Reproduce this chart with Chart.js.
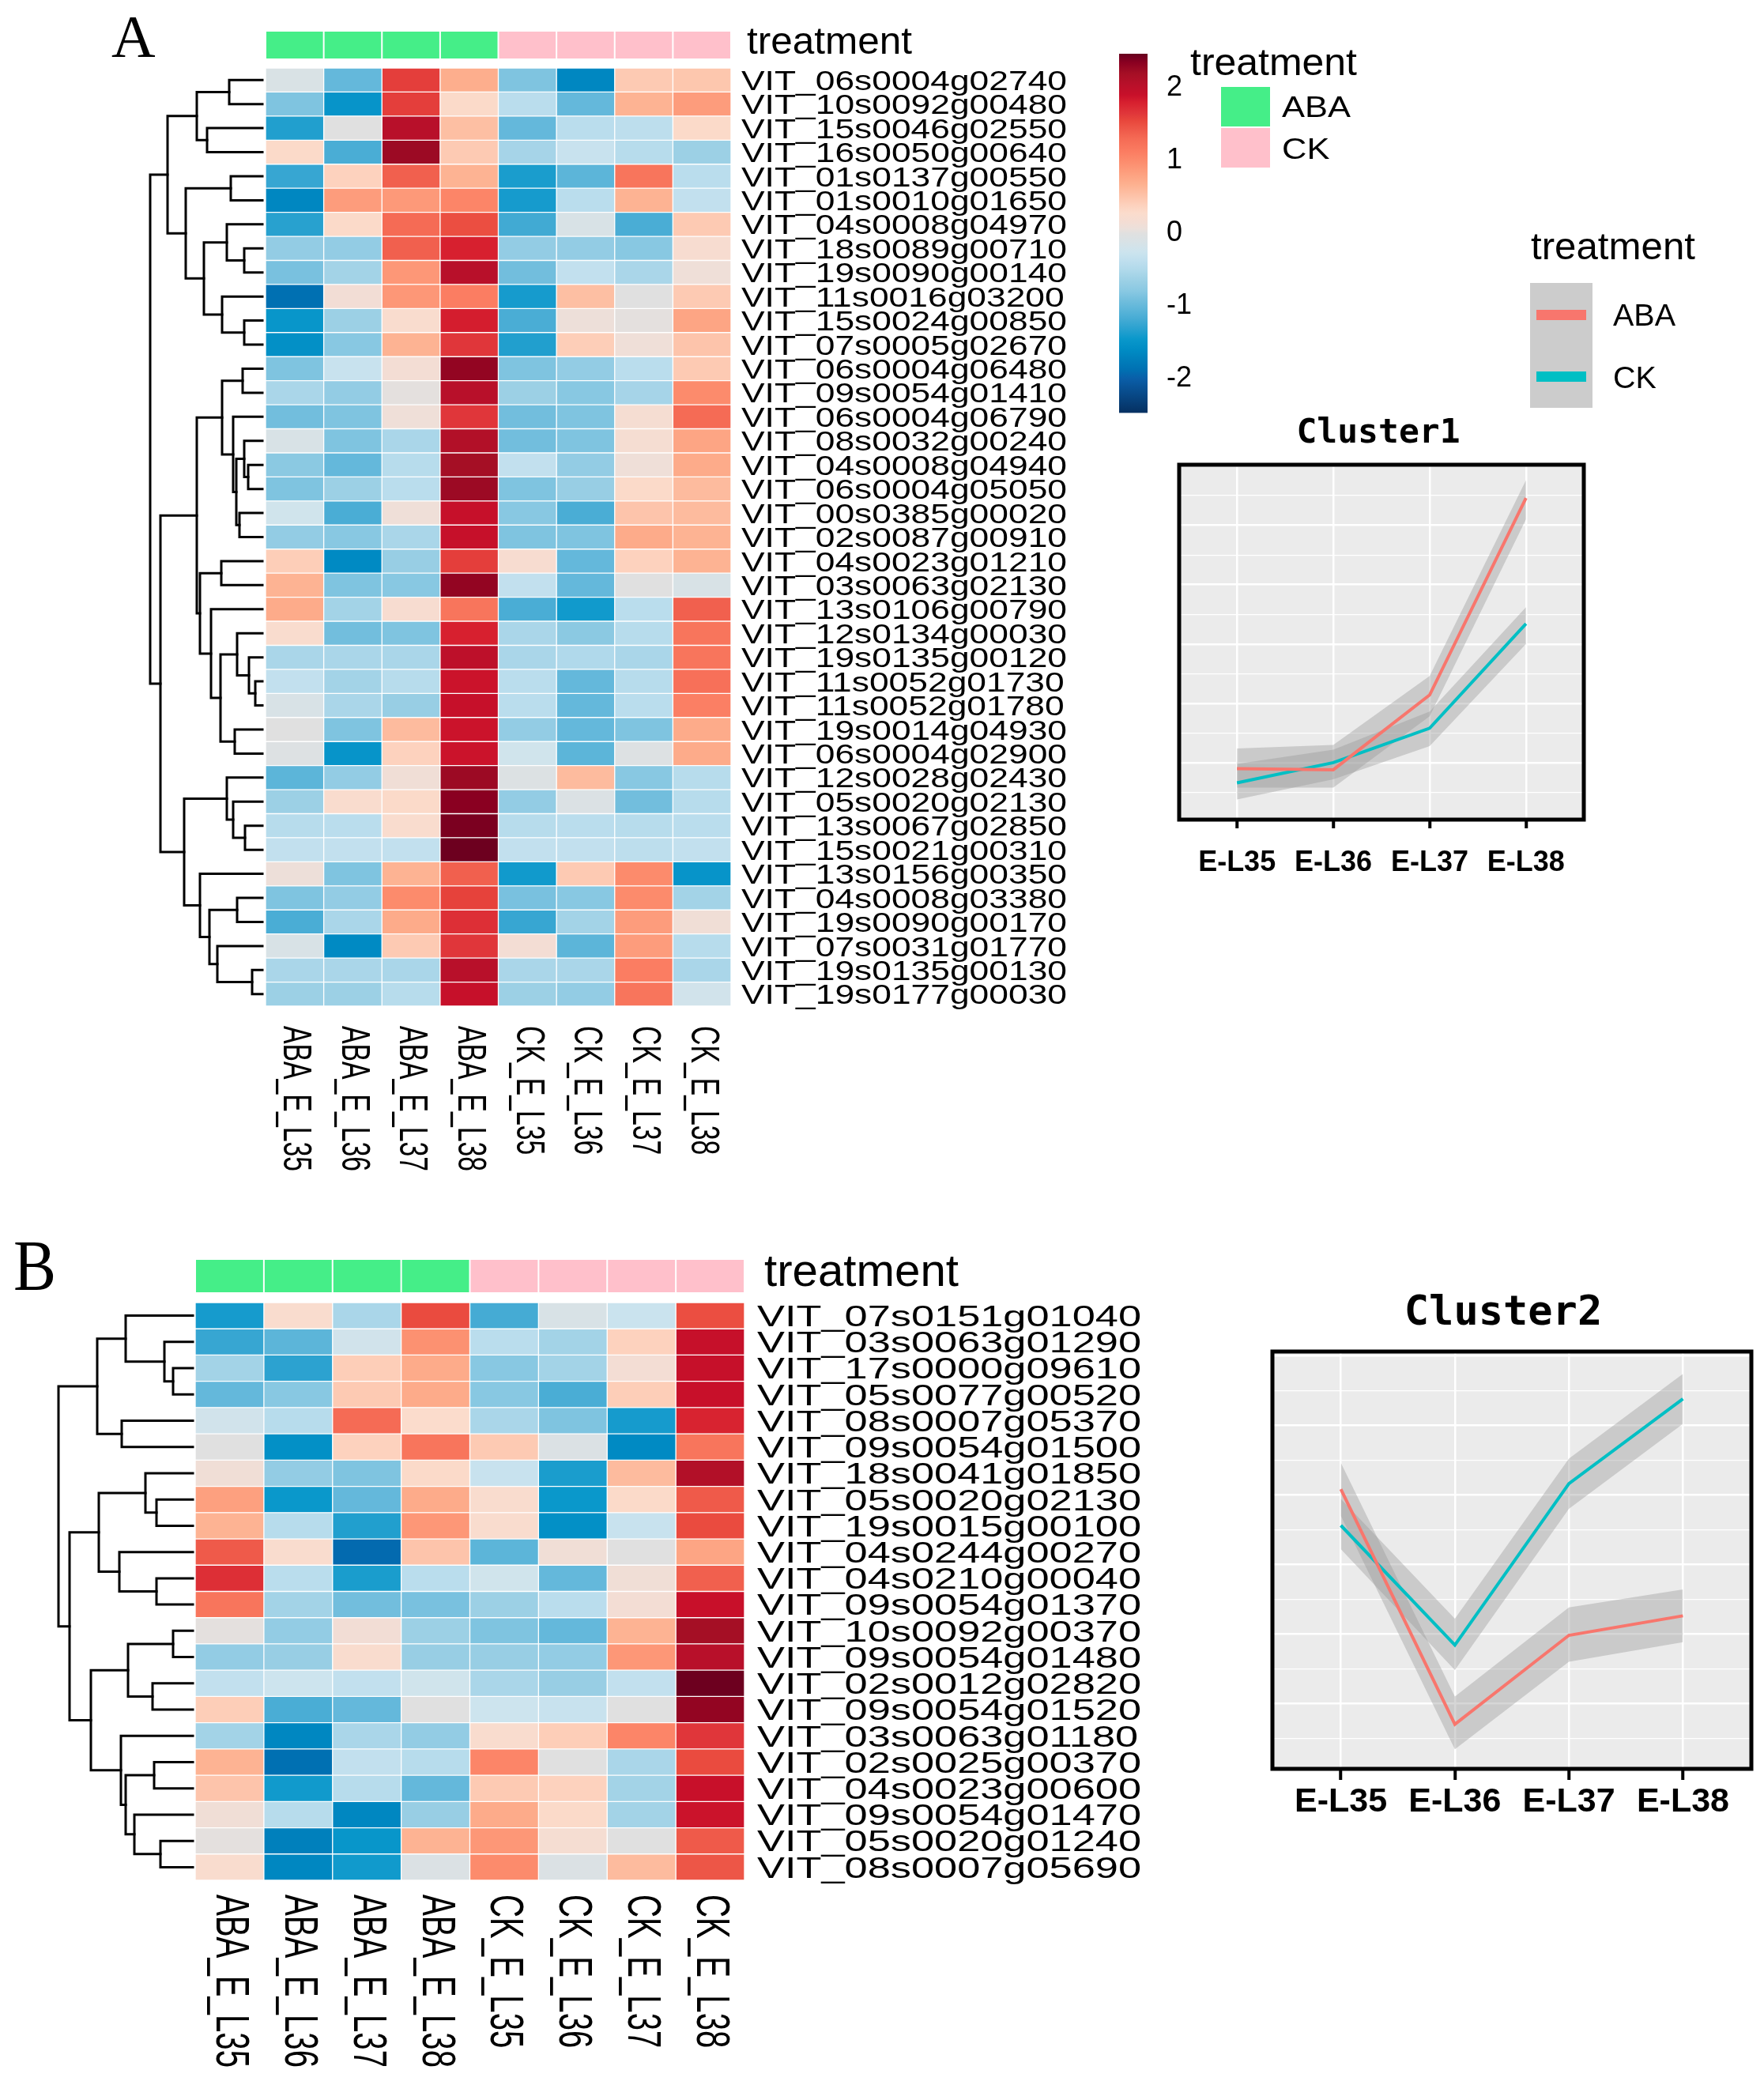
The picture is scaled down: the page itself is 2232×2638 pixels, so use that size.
<!DOCTYPE html>
<html>
<head>
<meta charset="utf-8">
<script src="https://cdn.jsdelivr.net/npm/chart.js@4.4.1/dist/chart.umd.min.js"></script>
<style>
  body { margin: 0; background: #fff; }
  #page { position: relative; width: 2232px; height: 2638px; background: #fff; overflow: hidden; }
  canvas { position: absolute; }
</style>
</head>
<body>
<div id="page">
  <canvas id="heatA" width="1420" height="1500" style="left:0px;top:0px"></canvas>
  <canvas id="heatB" width="1520" height="1098" style="left:0px;top:1540px"></canvas>
  <canvas id="legend" width="852" height="560" style="left:1380px;top:0px"></canvas>
  <canvas id="clu1" width="620" height="660" style="left:1440px;top:480px"></canvas>
  <canvas id="clu2" width="672" height="740" style="left:1560px;top:1590px"></canvas>
</div>
<script>
// ---- data ----
var samples = ['ABA_E_L35', 'ABA_E_L36', 'ABA_E_L37', 'ABA_E_L38', 'CK_E_L35', 'CK_E_L36', 'CK_E_L37', 'CK_E_L38'];
var groups = ['ABA', 'CK'];
var sampleGroup = [0, 0, 0, 0, 1, 1, 1, 1];
var stages = ['E-L35', 'E-L36', 'E-L37', 'E-L38'];
var colorTicks = [2, 1, 0, -1, -2];

var genesA = ['VIT_06s0004g02740', 'VIT_10s0092g00480', 'VIT_15s0046g02550', 'VIT_16s0050g00640',
  'VIT_01s0137g00550', 'VIT_01s0010g01650', 'VIT_04s0008g04970', 'VIT_18s0089g00710', 'VIT_19s0090g00140',
  'VIT_11s0016g03200', 'VIT_15s0024g00850', 'VIT_07s0005g02670', 'VIT_06s0004g06480', 'VIT_09s0054g01410',
  'VIT_06s0004g06790', 'VIT_08s0032g00240', 'VIT_04s0008g04940', 'VIT_06s0004g05050', 'VIT_00s0385g00020',
  'VIT_02s0087g00910', 'VIT_04s0023g01210', 'VIT_03s0063g02130', 'VIT_13s0106g00790', 'VIT_12s0134g00030',
  'VIT_19s0135g00120', 'VIT_11s0052g01730', 'VIT_11s0052g01780', 'VIT_19s0014g04930', 'VIT_06s0004g02900',
  'VIT_12s0028g02430', 'VIT_05s0020g02130', 'VIT_13s0067g02850', 'VIT_15s0021g00310', 'VIT_13s0156g00350',
  'VIT_04s0008g03380', 'VIT_19s0090g00170', 'VIT_07s0031g01770', 'VIT_19s0135g00130', 'VIT_19s0177g00030'];

var valuesA = [
  [-0.1, -1.0, 1.6, 0.7, -0.85, -1.65, 0.45, 0.48],
  [-0.85, -1.5, 1.6, 0.3, -0.42, -1.0, 0.65, 0.85],
  [-1.35, 0, 2.05, 0.55, -1.0, -0.42, -0.4, 0.3],
  [0.3, -1.15, 2.25, 0.45, -0.58, -0.3, -0.45, -0.65],
  [-1.25, 0.38, 1.38, 0.65, -1.38, -1.05, 1.2, -0.42],
  [-1.65, 0.85, 0.88, 1.05, -1.4, -0.42, 0.65, -0.35],
  [-1.32, 0.3, 1.3, 1.5, -1.2, -0.12, -1.15, 0.45],
  [-0.72, -0.72, 1.38, 1.8, -0.72, -0.72, -0.8, 0.22],
  [-0.88, -0.6, 0.9, 2.05, -0.92, -0.35, -0.55, 0.1],
  [-1.88, 0.14, 0.9, 1.12, -1.4, 0.55, 0, 0.45],
  [-1.48, -0.65, 0.25, 1.82, -1.15, 0.08, 0.02, 0.78],
  [-1.55, -0.8, 0.65, 1.65, -1.35, 0.42, 0.1, 0.5],
  [-0.85, -0.3, 0.15, 2.3, -0.85, -0.72, -0.42, 0.45],
  [-0.55, -0.72, 0.02, 2.05, -0.65, -0.8, -0.58, 1.0],
  [-0.92, -0.85, 0.1, 1.65, -0.92, -0.85, 0.18, 1.3],
  [-0.12, -0.85, -0.55, 2.1, -0.92, -0.85, 0.18, 0.78],
  [-0.78, -1.0, -0.45, 2.2, -0.35, -0.72, 0.1, 0.72],
  [-0.85, -0.65, -0.42, 2.25, -0.85, -0.68, 0.3, 0.58],
  [-0.22, -1.15, 0.1, 1.92, -0.8, -1.15, 0.5, 0.58],
  [-0.72, -0.8, -0.55, 1.92, -0.85, -0.85, 0.72, 0.65],
  [0.42, -1.62, -0.68, 1.6, 0.22, -1.0, 0.38, 0.65],
  [0.65, -0.85, -0.8, 2.3, -0.35, -1.0, 0, -0.12],
  [0.72, -0.6, 0.22, 1.2, -1.15, -1.42, -0.42, 1.38],
  [0.25, -0.92, -0.85, 1.8, -0.55, -0.78, -0.45, 1.2],
  [-0.55, -0.55, -0.55, 2.0, -0.55, -0.5, -0.55, 1.2],
  [-0.35, -0.6, -0.45, 1.88, -0.42, -1.0, -0.45, 1.25],
  [-0.12, -0.55, -0.68, 1.92, -0.42, -1.0, -0.42, 1.1],
  [0, -0.85, 0.58, 1.88, -0.72, -1.0, -0.85, 0.72],
  [-0.05, -1.5, 0.38, 1.88, -0.22, -1.05, -0.05, 0.72],
  [-1.05, -0.72, 0.12, 2.25, -0.06, 0.58, -0.8, -0.45],
  [-0.65, 0.25, 0.3, 2.35, -0.72, -0.08, -0.92, -0.45],
  [-0.45, -0.42, 0.25, 2.4, -0.45, -0.42, -0.45, -0.42],
  [-0.35, -0.35, -0.35, 2.45, -0.35, -0.35, -0.4, -0.35],
  [0.08, -0.85, 0.65, 1.38, -1.42, 0.45, 1.0, -1.5],
  [-0.85, -0.72, 1.0, 1.58, -0.88, -0.8, 1.0, -0.6],
  [-1.15, -0.55, 0.72, 1.7, -1.25, -0.6, 0.85, 0.12],
  [-0.12, -1.62, 0.45, 1.65, 0.15, -1.05, 0.85, -0.45],
  [-0.55, -0.55, -0.55, 2.05, -0.55, -0.55, 1.12, -0.55],
  [-0.65, -0.65, -0.45, 1.92, -0.65, -0.72, 1.2, -0.2]
];

// row dendrogram: [height, left, right], leaves are row indices
var treeA = [14.5,
  [12.3,
    [8.6, [4.5, 0, 1], [7.3, 2, 3]],
    [10.0, [4.3, 4, 5], [7.7, [4.8, 6, [2.6, 7, 8]], [5.4, 9, [2.6, 10, 11]]]]],
  [13.2,
    [8.6,
      [5.4, [2.8, 12, 13], [4.0, 14, [3.6, [2.6, 15, [2.1, 16, 17]], [3.2, 18, 19]]]],
      [8.2, [5.5, 20, 21], [6.8, 22, [5.6, [3.5, 23, [2.0, 24, [1.2, 25, 26]]], [3.8, 27, 28]]]]],
    [10.2,
      [4.8, 29, [4.0, 30, [2.5, 31, 32]]],
      [8.2, 33, [7.0, [3.5, 34, 35], [6.0, 36, [1.6, 37, 38]]]]]]];

var genesB = ['VIT_07s0151g01040', 'VIT_03s0063g01290', 'VIT_17s0000g09610', 'VIT_05s0077g00520',
  'VIT_08s0007g05370', 'VIT_09s0054g01500', 'VIT_18s0041g01850', 'VIT_05s0020g02130', 'VIT_19s0015g00100',
  'VIT_04s0244g00270', 'VIT_04s0210g00040', 'VIT_09s0054g01370', 'VIT_10s0092g00370', 'VIT_09s0054g01480',
  'VIT_02s0012g02820', 'VIT_09s0054g01520', 'VIT_03s0063g01180', 'VIT_02s0025g00370', 'VIT_04s0023g00600',
  'VIT_09s0054g01470', 'VIT_05s0020g01240', 'VIT_08s0007g05690'];

var valuesB = [
  [-1.4, 0.25, -0.55, 1.52, -1.18, -0.12, -0.28, 1.5],
  [-1.25, -1.05, -0.2, 0.95, -0.42, -0.6, 0.38, 1.92],
  [-0.6, -1.3, 0.42, 0.72, -0.8, -0.6, 0.15, 1.92],
  [-1.0, -0.8, 0.45, 0.72, -0.8, -1.15, 0.42, 1.9],
  [-0.2, -0.45, 1.3, 0.28, -0.55, -0.85, -1.4, 1.78],
  [0, -1.55, 0.38, 1.2, 0.45, -0.08, -1.62, 1.2],
  [0.12, -0.72, -0.85, 0.3, -0.3, -1.38, 0.58, 2.1],
  [0.82, -1.45, -1.0, 0.72, 0.25, -1.45, 0.3, 1.42],
  [0.65, -0.45, -1.35, 0.9, 0.25, -1.55, -0.3, 1.52],
  [1.42, 0.25, -1.92, 0.5, -1.05, 0.12, 0, 0.78],
  [1.7, -0.42, -1.38, -0.42, -0.22, -1.0, 0.12, 1.38],
  [1.2, -0.6, -0.92, -0.88, -0.65, -0.42, 0.15, 1.9],
  [0.02, -0.72, 0.14, -0.65, -0.85, -1.0, 0.65, 2.2],
  [-0.72, -0.68, 0.25, -0.68, -0.68, -0.72, 0.9, 2.05],
  [-0.35, -0.25, -0.35, -0.22, -0.55, -0.68, -0.35, 2.45],
  [0.42, -1.15, -1.0, 0, -0.25, -0.3, 0, 2.3],
  [-0.6, -1.65, -0.55, -0.72, 0.25, 0.42, 1.05, 1.65],
  [0.65, -1.88, -0.35, -0.45, 1.05, 0, -0.55, 1.52],
  [0.5, -1.42, -0.45, -1.0, 0.45, 0.38, -0.6, 1.9],
  [0.12, -0.45, -1.65, -0.68, 0.72, 0.3, -0.6, 1.88],
  [0.02, -1.72, -1.48, 0.65, 0.9, 0.18, 0, 1.42],
  [0.25, -1.65, -1.42, -0.08, 1.0, -0.08, 0.58, 1.45]
];

var treeB = [17.3,
  [12.4, [8.8, 0, [3.9, 1, [2.8, 2, 3]]], [9.3, 4, 5]],
  [15.9,
    [12.2, [6.3, 6, [4.9, 7, 8]], [9.6, 9, [4.9, 10, 11]]],
    [13.2,
      [8.5, [2.8, 12, 13], [5.4, 14, 15]],
      [9.4, 16, [8.8, [5.2, 17, 18], [7.7, 19, [4.4, 20, 21]]]]]]];

// cluster mean profiles with confidence band
var c1Aba = [-0.55, -0.56, 0.07, 1.73];
var c1AbaHi = [-0.38, -0.35, 0.23, 1.88];
var c1AbaLo = [-0.71, -0.71, -0.11, 1.55];
var c1Ck = [-0.67, -0.5, -0.21, 0.67];
var c1CkHi = [-0.51, -0.39, -0.07, 0.81];
var c1CkLo = [-0.81, -0.64, -0.36, 0.5];

var c2Aba = [1.04, -0.65, -0.01, 0.13];
var c2AbaHi = [1.23, -0.45, 0.19, 0.32];
var c2AbaLo = [0.85, -0.83, -0.2, -0.06];
var c2Ck = [0.78, -0.08, 1.08, 1.69];
var c2CkHi = [0.97, 0.11, 1.26, 1.87];
var c2CkLo = [0.61, -0.26, 0.9, 1.51];

// ---- styles ----
var groupColors = ['#45EE88', '#FFC0CB'];
var lineColors = ['#F8766D', '#00BFC4'];
var rampStops = [
  [-2.47, '#053061'], [-2.0, '#0a5ea8'], [-1.88, '#0070b2'], [-1.72, '#0080bc'], [-1.6, '#008cc4'],
  [-1.45, '#0a98cb'], [-1.33, '#26a0cf'], [-1.18, '#45abd4'], [-1.05, '#5cb5d9'], [-0.92, '#72bedd'],
  [-0.8, '#88c8e2'], [-0.65, '#9cd0e5'], [-0.52, '#aed8ea'], [-0.38, '#bfdfee'], [-0.25, '#cde4ee'],
  [-0.12, '#d8e2e6'], [0, '#e0e0e0'], [0.06, '#ebe0db'], [0.15, '#f3ddd4'], [0.28, '#fbdccc'],
  [0.4, '#fdd0bb'], [0.52, '#fdc2a8'], [0.67, '#fdb190'], [0.82, '#fda07f'], [0.98, '#fc8d6e'],
  [1.12, '#fb7d62'], [1.3, '#f56b55'], [1.42, '#ef5a4a'], [1.55, '#e8473c'], [1.65, '#e0363a'],
  [1.8, '#d7202f'], [1.9, '#c8102a'], [2.05, '#b8102a'], [2.2, '#a50f25'], [2.35, '#8a0021'], [2.47, '#67001f']
];
var SANS = "'Liberation Sans', Arial, sans-serif";

Chart.defaults.font.family = SANS;
Chart.defaults.color = '#000';

function hexRgb(h) {
  return [parseInt(h.substr(1, 2), 16), parseInt(h.substr(3, 2), 16), parseInt(h.substr(5, 2), 16)];
}

function colorFor(v) {
  if (v <= rampStops[0][0]) return rampStops[0][1];
  for (var i = 1; i < rampStops.length; i++) {
    if (v <= rampStops[i][0]) {
      var a = rampStops[i - 1], b = rampStops[i];
      var t = (v - a[0]) / (b[0] - a[0]);
      var ca = hexRgb(a[1]), cb = hexRgb(b[1]);
      return 'rgb(' + ca.map(function (c, k) { return Math.round(c + (cb[k] - c) * t); }).join(',') + ')';
    }
  }
  return rampStops[rampStops.length - 1][1];
}

// horizontal stretch needed so that `ref` set at `size` is `targetW` wide
function fitScale(ctx, ref, size, targetW, weight, family) {
  ctx.save();
  ctx.font = (weight || 'normal') + ' ' + size + 'px ' + (family || SANS);
  var w = ctx.measureText(ref).width;
  ctx.restore();
  return targetW / w;
}

function drawText(ctx, str, x, y, size, sx, weight, family, align) {
  ctx.save();
  ctx.translate(x, y);
  ctx.scale(sx || 1, 1);
  ctx.font = (weight || 'normal') + ' ' + size + 'px ' + (family || SANS);
  ctx.textAlign = align || 'left';
  ctx.textBaseline = 'alphabetic';
  ctx.fillStyle = '#000';
  ctx.fillText(str, 0, 0);
  ctx.restore();
}

function drawTree(ctx, node, ys, left, k) {
  if (typeof node === 'number') return { x: left - 3, y: ys.getPixelForValue(node) };
  var a = drawTree(ctx, node[1], ys, left, k);
  var b = drawTree(ctx, node[2], ys, left, k);
  var x = left - node[0] * k;
  ctx.beginPath();
  ctx.moveTo(a.x, a.y);
  ctx.lineTo(x, a.y);
  ctx.lineTo(x, b.y);
  ctx.lineTo(b.x, b.y);
  ctx.stroke();
  return { x: x, y: (a.y + b.y) / 2 };
}

function heatExtras(o) {
  return {
    id: 'heatExtras',
    afterDraw: function (chart) {
      var ctx = chart.ctx, xs = chart.scales.x, ys = chart.scales.y, area = chart.chartArea;
      ctx.save();
      // treatment annotation
      samples.forEach(function (s, i) {
        var x0 = xs.getPixelForValue(i), x1 = xs.getPixelForValue(i + 1);
        ctx.fillStyle = groupColors[sampleGroup[i]];
        ctx.fillRect(x0 + 1, o.annTop, x1 - x0 - 2, o.annH);
      });
      drawText(ctx, 'treatment', o.annTitleX, o.annTitleY, o.annFont,
        fitScale(ctx, 'treatment', o.annFont, o.annTitleW));
      // panel letter
      drawText(ctx, o.letter, o.letterX, o.letterY, o.letterFont, o.letterSx, 'normal', "'Liberation Serif', 'Times New Roman', serif");
      // row labels
      var rsx = fitScale(ctx, o.genes[0], o.rowFont, o.rowW);
      o.genes.forEach(function (g, i) {
        var y = ys.getPixelForValue(i);
        drawText(ctx, g, o.rowX, y + 0.36 * o.rowFont, o.rowFont, rsx);
      });
      // column labels, rotated clockwise (glyph tops face right)
      var csx = fitScale(ctx, samples[0], o.colFont, o.colLen);
      samples.forEach(function (s, i) {
        var cx = xs.getPixelForValue(i + 0.5);
        ctx.save();
        ctx.translate(cx, o.colTop);
        ctx.rotate(Math.PI / 2);
        ctx.scale(csx, o.colSy);
        ctx.font = o.colFont + 'px ' + SANS;
        ctx.textAlign = 'left';
        ctx.textBaseline = 'middle';
        ctx.fillStyle = '#000';
        ctx.fillText(s, 0, 0);
        ctx.restore();
      });
      // dendrogram
      ctx.strokeStyle = '#000';
      ctx.lineWidth = 3;
      ctx.lineCap = 'square';
      drawTree(ctx, o.tree, ys, area.left - o.treeGap, o.treeK);
      ctx.restore();
    }
  };
}

function heatmap(id, genes, values, o) {
  var datasets = samples.map(function (s, j) {
    return {
      label: s,
      data: genes.map(function () { return 1; }),
      backgroundColor: values.map(function (row) { return colorFor(row[j]); }),
      borderColor: '#ffffff',
      borderWidth: 1,
      borderSkipped: false,
      barPercentage: 1,
      categoryPercentage: 1
    };
  });
  o.genes = genes;
  return new Chart(document.getElementById(id), {
    type: 'bar',
    data: { labels: genes, datasets: datasets },
    options: {
      indexAxis: 'y',
      responsive: false,
      animation: false,
      devicePixelRatio: 1,
      layout: { padding: o.padding },
      plugins: { legend: { display: false }, tooltip: { enabled: false } },
      scales: {
        x: { type: 'linear', stacked: true, min: 0, max: samples.length, display: false },
        y: {
          type: 'category', stacked: true, position: 'right',
          ticks: { display: false }, grid: { display: false }, border: { display: false },
          afterFit: function (s) { s.width = o.axisW; }
        }
      }
    },
    plugins: [heatExtras(o)]
  });
}

heatmap('heatA', genesA, valuesA, {
  padding: { left: 336, top: 86, right: 0, bottom: 227 }, axisW: 1420 - 925,
  annTop: 40, annH: 34, annTitleX: 945, annTitleY: 68, annFont: 48, annTitleW: 209,
  letter: 'A', letterX: 141, letterY: 72, letterFont: 77, letterSx: 1,
  rowX: 938, rowFont: 35, rowW: 412,
  colTop: 1298, colFont: 34, colLen: 184, colSy: 1.45,
  tree: treeA, treeGap: 1, treeK: 10
});

heatmap('heatB', genesB, valuesB, {
  padding: { left: 247, top: 108, right: 0, bottom: 259 }, axisW: 1520 - 942,
  annTop: 54, annH: 41, annTitleX: 967, annTitleY: 87, annFont: 58, annTitleW: 246,
  letter: 'B', letterX: 17, letterY: 92, letterFont: 90, letterSx: 0.9,
  rowX: 958, rowFont: 37, rowW: 486,
  colTop: 857, colFont: 40, colLen: 219, colSy: 1.5,
  tree: treeB, treeGap: 0, treeK: 10
});

// ---- legends ----
new Chart(document.getElementById('legend'), {
  type: 'scatter',
  data: { datasets: [] },
  options: {
    responsive: false,
    animation: false,
    devicePixelRatio: 1,
    layout: { padding: { left: 36, top: 68, bottom: 37, right: 0 } },
    plugins: { legend: { display: false }, tooltip: { enabled: false } },
    scales: {
      x: { type: 'linear', display: false },
      y: {
        type: 'linear', position: 'right',
        min: rampStops[0][0], max: rampStops[rampStops.length - 1][0],
        afterBuildTicks: function (s) { s.ticks = colorTicks.map(function (v) { return { value: v }; }); },
        ticks: { font: { size: 36 }, padding: 16, color: '#000' },
        grid: { display: false },
        border: { display: false },
        afterFit: function (s) { s.width = 780; }
      }
    }
  },
  plugins: [{
    id: 'legendExtras',
    beforeDatasetsDraw: function (chart) {
      var ctx = chart.ctx, a = chart.chartArea, ys = chart.scales.y;
      var g = ctx.createLinearGradient(0, a.bottom, 0, a.top);
      var lo = rampStops[0][0], hi = rampStops[rampStops.length - 1][0];
      rampStops.forEach(function (st) { g.addColorStop((st[0] - lo) / (hi - lo), st[1]); });
      ctx.fillStyle = g;
      ctx.fillRect(a.left, ys.getPixelForValue(hi), a.right - a.left, ys.getPixelForValue(lo) - ys.getPixelForValue(hi));
    },
    afterDraw: function (chart) {
      var ctx = chart.ctx;
      // annotation legend
      drawText(ctx, 'treatment', 126, 95, 48, fitScale(ctx, 'treatment', 48, 211));
      var s1 = fitScale(ctx, groups[0], 37, 87);
      groups.forEach(function (gname, i) {
        ctx.fillStyle = groupColors[i];
        ctx.fillRect(165, 110 + i * 52, 62, 50);
        drawText(ctx, gname, 242, 148 + i * 53, 37, s1);
      });
      // line plot legend
      drawText(ctx, 'treatment', 557, 328, 48, fitScale(ctx, 'treatment', 48, 208));
      ctx.fillStyle = '#CCCCCC';
      ctx.fillRect(556, 358, 79, 158);
      var s2 = fitScale(ctx, groups[0], 39, 79);
      groups.forEach(function (gname, i) {
        ctx.fillStyle = lineColors[i];
        ctx.fillRect(564, 392 + i * 78, 63, 13);
        drawText(ctx, gname, 661, 412 + i * 79, 39, s2);
      });
    }
  }]
});

// ---- cluster profile plots ----
function pts(arr) { return arr.map(function (y, i) { return { x: i, y: y }; }); }

function clusterChart(id, o) {
  var band = 'rgba(153,153,153,0.4)';
  return new Chart(document.getElementById(id), {
    type: 'line',
    data: {
      datasets: [
        { label: groups[0], data: pts(o.aba), borderColor: lineColors[0], borderWidth: 4, pointRadius: 0, fill: false, tension: 0 },
        { label: groups[1], data: pts(o.ck), borderColor: lineColors[1], borderWidth: 4, pointRadius: 0, fill: false, tension: 0 },
        { data: pts(o.abaHi), borderWidth: 0, pointRadius: 0, fill: false },
        { data: pts(o.abaLo), borderWidth: 0, pointRadius: 0, fill: '-1', backgroundColor: band },
        { data: pts(o.ckHi), borderWidth: 0, pointRadius: 0, fill: false },
        { data: pts(o.ckLo), borderWidth: 0, pointRadius: 0, fill: '-1', backgroundColor: band }
      ]
    },
    options: {
      responsive: false,
      animation: false,
      devicePixelRatio: 1,
      layout: { padding: o.padding },
      plugins: { legend: { display: false }, tooltip: { enabled: false } },
      scales: {
        x: {
          type: 'linear', min: -0.6, max: stages.length - 0.4,
          afterBuildTicks: function (s) { s.ticks = stages.map(function (_, i) { return { value: i }; }); },
          ticks: {
            autoSkip: false, maxRotation: 0, padding: o.tickPad, color: '#000',
            font: { size: o.tickFont, weight: 'bold' },
            callback: function (v) { return stages[v]; }
          },
          grid: { color: '#ffffff', lineWidth: 2.5, tickColor: '#000', tickLength: o.tickLen, tickWidth: 4 },
          border: { display: false },
          afterFit: function (s) { s.height = o.axisH; }
        },
        y: {
          type: 'linear', min: o.yMin, max: o.yMax,
          afterBuildTicks: function (s) {
            var t = [];
            for (var v = Math.ceil(o.yMin * 4) / 4; v <= o.yMax; v += 0.25) t.push({ value: v });
            s.ticks = t;
          },
          ticks: { display: false },
          grid: {
            color: '#ffffff', drawTicks: false,
            lineWidth: function (c) { return Math.abs(c.tick.value * 2 - Math.round(c.tick.value * 2)) < 1e-6 ? 2.5 : 1.2; }
          },
          border: { display: false },
          afterFit: function (s) { s.width = 0; }
        }
      }
    },
    plugins: [{
      id: 'panel',
      beforeDraw: function (chart) {
        var a = chart.chartArea, ctx = chart.ctx;
        ctx.save();
        ctx.fillStyle = '#EBEBEB';
        ctx.fillRect(a.left, a.top, a.right - a.left, a.bottom - a.top);
        ctx.restore();
      },
      afterDraw: function (chart) {
        var a = chart.chartArea, ctx = chart.ctx;
        ctx.save();
        ctx.strokeStyle = '#000';
        ctx.lineWidth = 5;
        ctx.strokeRect(a.left, a.top, a.right - a.left, a.bottom - a.top);
        ctx.restore();
        drawText(ctx, o.title, o.titleX, o.titleY, o.titleFont, 1, 'bold', "'DejaVu Sans Mono', monospace", 'center');
      }
    }]
  });
}

clusterChart('clu1', {
  aba: c1Aba, abaHi: c1AbaHi, abaLo: c1AbaLo, ck: c1Ck, ckHi: c1CkHi, ckLo: c1CkLo,
  yMin: -0.98, yMax: 2.01,
  padding: { left: 52, right: 56, top: 108, bottom: 0 }, axisH: 103,
  tickPad: 22, tickLen: 11, tickFont: 36,
  title: 'Cluster1', titleX: 304, titleY: 80, titleFont: 43
});

clusterChart('clu2', {
  aba: c2Aba, abaHi: c2AbaHi, abaLo: c2AbaLo, ck: c2Ck, ckHi: c2CkHi, ckLo: c2CkLo,
  yMin: -0.97, yMax: 2.03,
  padding: { left: 50, right: 16, top: 120, bottom: 0 }, axisH: 92,
  tickPad: 2, tickLen: 14, tickFont: 43,
  title: 'Cluster2', titleX: 342, titleY: 86, titleFont: 52
});
</script>
</body>
</html>
